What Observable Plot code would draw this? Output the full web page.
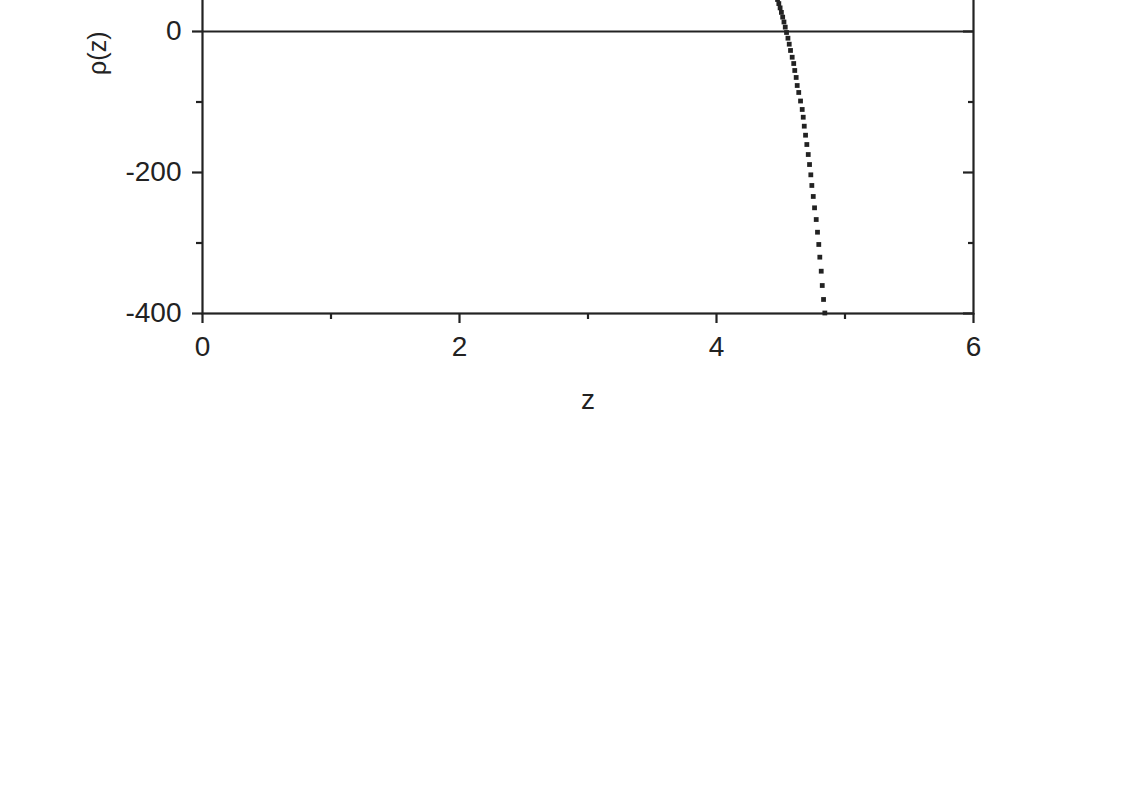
<!DOCTYPE html>
<html><head><meta charset="utf-8">
<script src="https://cdn.jsdelivr.net/npm/d3@7"></script>
<script src="https://cdn.jsdelivr.net/npm/@observablehq/plot@0.6"></script>
<style>
html,body{margin:0;padding:0;background:#fff;overflow:hidden;width:1131px;height:788px}
#chart{position:absolute;left:0;top:-271px}
</style></head><body><div id="chart"></div>
<script>
const zValues = [4.465, 4.475, 4.485, 4.495, 4.505, 4.515, 4.525, 4.535, 4.545, 4.556, 4.566, 4.576, 4.589, 4.601, 4.609, 4.620, 4.628, 4.640, 4.654, 4.667, 4.675, 4.683, 4.693, 4.703, 4.714, 4.724, 4.734, 4.742, 4.753, 4.763, 4.776, 4.786, 4.796, 4.804, 4.815, 4.823, 4.833, 4.843];
const rhoValues = [51, 45.4, 39.6, 33.5, 27.1, 20.4, 13.5, 6.2, -1.4, -9.5, -18.0, -26.9, -36.5, -45.4, -55.3, -65.2, -76.6, -86.5, -98.6, -110.6, -121.6, -134.3, -147.1, -160.3, -174.5, -188.7, -203.3, -218.4, -234.0, -250.1, -266.7, -284.7, -302.1, -320.1, -340.0, -360.3, -380.1, -399.3];
const xMajorTicks = [0, 2, 4, 6];
const xMinorTicks = [1, 3, 5];
const yMajorTicks = [-400, -200, 0];
const yMinorTicks = [-300, -100];
const xLabel = "z";
const yLabel = "ρ(z)";

const points = zValues.map((z, i) => ({z, rho: rhoValues[i]}));
const ink = "#222";
const fmt = d => String(d);

const chart = Plot.plot({
  width: 1131,
  height: 704,
  marginTop: 20,
  marginLeft: 202,
  marginRight: 158,
  marginBottom: 120,
  x: {domain: [0, 6]},
  y: {domain: [-400, 400]},
  style: {fontFamily: "'Liberation Sans', Arial, sans-serif", fontSize: "28px", color: ink, background: "white", overflow: "visible"},
  marks: [
    Plot.ruleY([0], {stroke: ink, strokeWidth: 2.2}),
    Plot.dot(points, {x: "z", y: "rho", symbol: "square", r: 2.7, fill: ink, stroke: "none"}),
    Plot.frame({stroke: ink, strokeWidth: 2.2}),
    Plot.axisX(xMajorTicks, {anchor: "bottom", tickSize: 10, tickPadding: 13, strokeWidth: 2.2, label: null, tickFormat: fmt, fontSize: 28}),
    Plot.axisX(xMinorTicks, {anchor: "bottom", tickSize: 6, strokeWidth: 2.2, tickFormat: () => "", label: null}),
    Plot.axisY(yMajorTicks, {anchor: "left", tickSize: 10, tickPadding: 11, strokeWidth: 2.2, label: null, tickFormat: fmt, fontSize: 28}),
    Plot.axisY(yMinorTicks, {anchor: "left", tickSize: 6, strokeWidth: 2.2, tickFormat: () => "", label: null}),
    Plot.axisY(yMajorTicks, {anchor: "right", tickSize: -11, strokeWidth: 2.2, tickFormat: () => "", label: null}),
    Plot.axisY(yMinorTicks, {anchor: "right", tickSize: -6, strokeWidth: 2.2, tickFormat: () => "", label: null}),
    Plot.text([xLabel], {frameAnchor: "bottom", dy: 95, text: d => d, fontSize: 28, fill: ink}),
    Plot.text([yLabel], {frameAnchor: "left", dx: -105, rotate: -90, textAnchor: "end", text: d => d, fontSize: 25, fill: ink})
  ]
});
document.getElementById("chart").append(chart);
</script></body></html>
